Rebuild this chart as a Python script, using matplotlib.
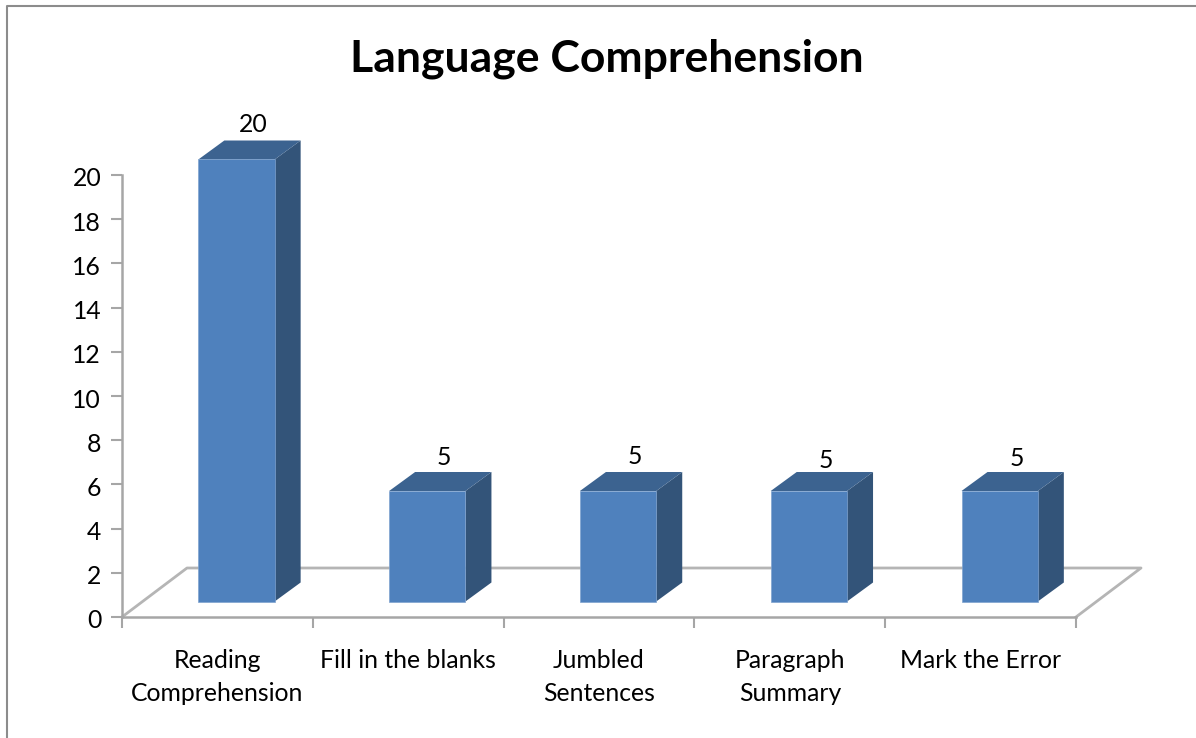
import matplotlib
matplotlib.use('Agg')
import matplotlib.pyplot as plt
from matplotlib.patches import Polygon
from matplotlib.transforms import ScaledTranslation

categories = ['Reading\nComprehension', 'Fill in the blanks', 'Jumbled\nSentences',
              'Paragraph\nSummary', 'Mark the Error']
values = [20, 5, 5, 5, 5]
y_ticks = list(range(0, 21, 2))

W, H = 1196, 738
plt.rcParams['font.family'] = ['Lato', 'DejaVu Sans']

fig = plt.figure(figsize=(W / 100, H / 100), dpi=100)
# axes box in pixels: x 122-1076, y 175-617
ax = fig.add_axes([122 / W, 1 - 617 / H, (1076 - 122) / W, (617 - 175) / H])
ax.set_xlim(0, 5)
ax.set_ylim(0, 20)
ax.patch.set_visible(False)

grey = '#a6a6a6'
for s in ['top', 'right']:
    ax.spines[s].set_visible(False)
for s in ['left', 'bottom']:
    ax.spines[s].set_color(grey)
    ax.spines[s].set_linewidth(1.8)

px_x = 5 / (1076 - 122)
px_y = 20 / (617 - 175)

# floor of the fake 3d chart
floor_dx = 65 * px_x
floor_dy = 49 * px_y
ax.plot([0, floor_dx, 5 + floor_dx, 5], [0, floor_dy, floor_dy, 0], color='#b5b5b5', lw=2,
        clip_on=False, zorder=1)

# bars
depth_x = 26 * px_x
depth_y = 19 * px_y
base = 15.5 * px_y
left = 0.4
width = 0.4
label_shift = [0, -1, 0, -4, -2]
for i, v in enumerate(values):
    x0 = i + left
    x1 = x0 + width
    y0 = base
    y1 = base + v
    ax.add_patch(Polygon([(x1, y0), (x1 + depth_x, y0 + depth_y), (x1 + depth_x, y1 + depth_y), (x1, y1)],
                         facecolor='#335479', edgecolor='none', clip_on=False, zorder=3))
    ax.add_patch(Polygon([(x0, y1), (x0 + depth_x, y1 + depth_y), (x1 + depth_x, y1 + depth_y), (x1, y1)],
                         facecolor='#3c6390', edgecolor='none', clip_on=False, zorder=3))
    ax.add_patch(Polygon([(x0, y0), (x1, y0), (x1, y1), (x0, y1)],
                         facecolor='#4f81bd', edgecolor='#7fa3cf', lw=0.5, clip_on=False, zorder=4))
    ax.text(x0 + width / 2 + depth_x / 2 + 4 * px_x, y1 + depth_y + (4 + label_shift[i]) * px_y, str(v),
            ha='center', va='bottom', fontsize=17.8, color='black', clip_on=False)

ax.set_yticks(y_ticks)
ax.set_xticks(range(6))
ax.set_xticklabels([])
ax.tick_params(axis='both', color=grey, width=1.5, length=8, labelsize=17.8, labelcolor='black')
ax.tick_params(axis='y', pad=7)
# nudge the y labels down a little
for lab in ax.get_yticklabels():
    lab.set_transform(lab.get_transform() + ScaledTranslation(0, -2 / 100, fig.dpi_scale_trans))

for i, c in enumerate(categories):
    ax.text(i + 0.5, -32 * px_y, c, ha='center', va='top', fontsize=17.8, linespacing=1.52, clip_on=False)

fig.text(607 / W, 1 - 59 / H, 'Language Comprehension', ha='center', va='center',
         fontsize=32, fontweight='bold', color='black')

# outer frame of the pasted chart
fig.add_artist(plt.Line2D([7 / W, 7 / W, 1], [0, 1 - 6 / H, 1 - 6 / H], color='#8c8c8c', lw=1.5))

fig.savefig('out.png', dpi=100)
